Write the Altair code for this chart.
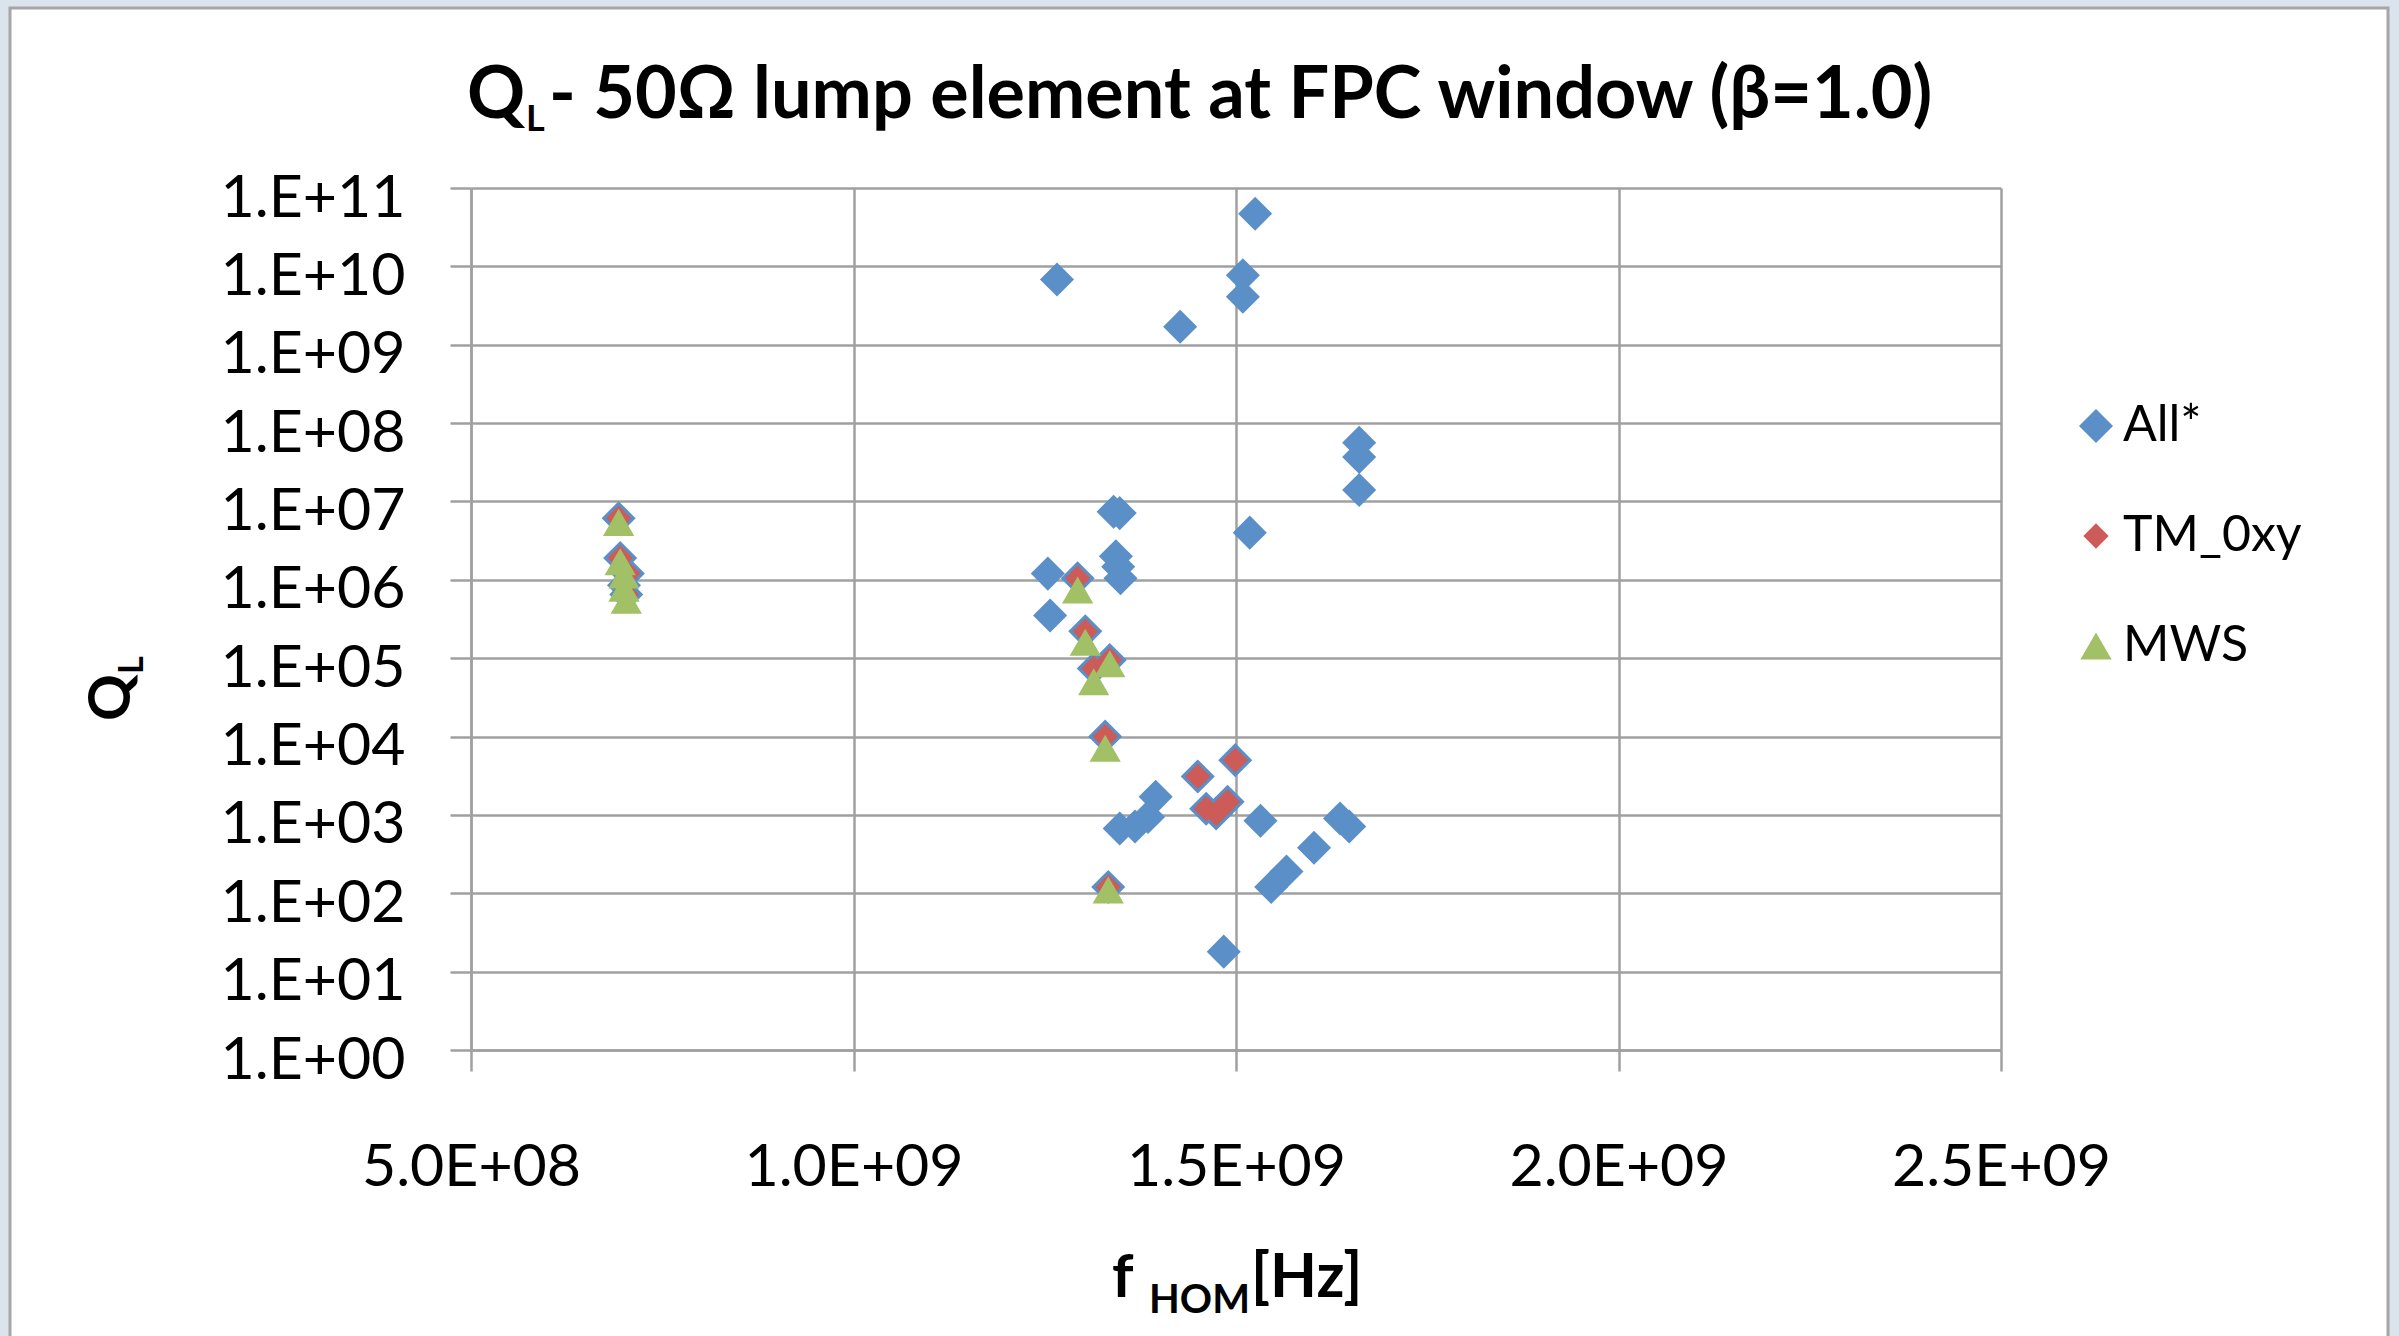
import altair as alt
import pandas as pd

# ---------------- data ----------------
series_names = ["All*", "TM_0xy", "MWS"]
series_colors = ["#5a8fc8", "#cd5b57", "#a2c065"]
series_shapes = ["diamond", "diamond", "triangle-up"]
series_sizes = [1160, 640, 980]

all_f = [6.93e8, 6.95e8, 7.05e8, 7.00e8, 7.03e8,
         1.254e9, 1.257e9, 1.266e9, 1.293e9, 1.303e9, 1.314e9, 1.329e9, 1.333e9,
         1.335e9, 1.340e9, 1.348e9, 1.343e9, 1.346e9, 1.349e9, 1.348e9, 1.368e9,
         1.385e9, 1.395e9, 1.427e9, 1.450e9, 1.461e9, 1.474e9, 1.484e9, 1.489e9,
         1.499e9, 1.509e9, 1.509e9, 1.518e9, 1.525e9, 1.532e9, 1.546e9, 1.566e9,
         1.602e9, 1.636e9, 1.648e9, 1.661e9, 1.661e9, 1.661e9]
all_q = [6.1e6, 1.9e6, 1.2e6, 8.5e5, 6.5e5,
         1.2e6, 3.5e5, 6.8e9, 1.05e6, 2.2e5, 7.4e4, 1.0e4, 1.2e2,
         9.5e4, 7.4e6, 7.1e6, 2.0e6, 1.47e6, 1.05e6, 6.7e2, 7.1e2,
         9.4e2, 1.7e3, 1.7e9, 3.1e3, 1.2e3, 1.04e3, 18, 1.47e3,
         5.0e3, 7.7e9, 4.1e9, 4.0e6, 4.7e10, 8.4e2, 1.2e2, 1.9e2,
         3.8e2, 9.0e2, 7.1e2, 5.6e7, 3.7e7, 1.4e7]

tm_f = [6.93e8, 6.95e8, 7.05e8, 7.00e8, 7.03e8,
        1.293e9, 1.303e9, 1.314e9, 1.335e9, 1.329e9, 1.333e9,
        1.450e9, 1.461e9, 1.474e9, 1.489e9, 1.499e9]
tm_q = [6.1e6, 1.9e6, 1.2e6, 8.5e5, 6.5e5,
        1.05e6, 2.2e5, 7.4e4, 9.5e4, 1.0e4, 1.2e2,
        3.1e3, 1.2e3, 1.04e3, 1.47e3, 5.0e3]

mws_f = [6.93e8, 6.95e8, 7.00e8, 7.00e8, 7.03e8,
         1.293e9, 1.303e9, 1.335e9, 1.314e9, 1.329e9, 1.333e9]
mws_q = [5.4e6, 1.7e6, 1.15e6, 7.8e5, 5.5e5,
         7.4e5, 1.6e5, 8.5e4, 5.0e4, 7.1e3, 1.1e2]

x_ticks = [5e8, 1e9, 1.5e9, 2e9, 2.5e9]
x_tick_labels = ["5.0E+08", "1.0E+09", "1.5E+09", "2.0E+09", "2.5E+09"]
y_ticks = [10.0 ** k for k in range(12)]
y_tick_labels = ["1.E+00", "1.E+01", "1.E+02", "1.E+03", "1.E+04", "1.E+05",
                 "1.E+06", "1.E+07", "1.E+08", "1.E+09", "1.E+10", "1.E+11"]

title_main = "Q"
title_sub = "L"
title_rest = " - 50Ω lump element at FPC window (β=1.0)"
xtitle_main = "f"
xtitle_sub = "HOM"
xtitle_rest = "[Hz]"
ytitle_main = "Q"
ytitle_sub = "L"

# ---------------- build ----------------
rows = []
for name, fs, qs in [("All*", all_f, all_q), ("TM_0xy", tm_f, tm_q), ("MWS", mws_f, mws_q)]:
    for f, q in zip(fs, qs):
        rows.append({"f": f, "q": q, "series": name})
df = pd.DataFrame(rows)


def label_expr(values, labels):
    expr = "''"
    for v, l in reversed(list(zip(values, labels))):
        expr = f"(datum.value == {float(v)!r} ? '{l}' : {expr})"
    return expr


GRID = "#a0a0a0"
W, H = 1530, 862

points = alt.Chart(df).mark_point(filled=True, opacity=1, strokeWidth=0).encode(
    x=alt.X("f:Q",
            scale=alt.Scale(domain=[5e8, 2.5e9], nice=False, zero=False),
            axis=alt.Axis(values=x_ticks, labelExpr=label_expr(x_ticks, x_tick_labels),
                          title=None, labelPadding=67, tickSize=21, grid=True,
                          labelLimit=1000, labelFlush=False, labelOverlap=False)),
    y=alt.Y("q:Q",
            scale=alt.Scale(type="log", domain=[1, 1e11], nice=False),
            axis=alt.Axis(values=y_ticks, labelExpr=label_expr(y_ticks, y_tick_labels),
                          title=None, labelPadding=45, tickSize=21, labelOffset=10, grid=True,
                          labelLimit=1000, labelFlush=False, labelOverlap=False)),
    color=alt.Color("series:N", scale=alt.Scale(domain=series_names, range=series_colors),
                    legend=alt.Legend(title=None, orient="none", legendX=1600, legendY=213,
                                      labelFont="Lato", labelFontSize=50, labelColor="black",
                                      rowPadding=60, labelOffset=2, symbolStrokeWidth=0,
                                      padding=0, symbolOpacity=1, labelLimit=1000)),
    shape=alt.Shape("series:N", scale=alt.Scale(domain=series_names, range=series_shapes)),
    size=alt.Size("series:N", scale=alt.Scale(type="ordinal", domain=series_names, range=series_sizes)),
)


def text_layer(txt, x, y, size, angle=0):
    return alt.Chart(pd.DataFrame({"t": [txt]})).mark_text(
        align="left", baseline="alphabetic", font="Lato", fontSize=size,
        fontWeight="bold", angle=angle, color="black"
    ).encode(text="t:N", x=alt.value(x), y=alt.value(y))


def rect_layer(x, x2, y, y2, **kw):
    return alt.Chart(pd.DataFrame({"a": [0]})).mark_rect(**kw).encode(
        x=alt.value(x), x2=alt.value(x2), y=alt.value(y), y2=alt.value(y2))


BG = "#dbe3ec"
frame = [
    rect_layer(-471, -462, -188, 1148, fill=BG),
    rect_layer(-471, 1928, -188, -181, fill=BG),
    rect_layer(1917, 1928, -188, 1148, fill=BG),
    rect_layer(-461, 1917, -180, 1160, fill="white", fillOpacity=0, stroke="#a6a6a6", strokeWidth=3),
]

texts = [
    text_layer(title_main, -4, -70, 72),
    text_layer(title_sub, 55, -57, 36),
    text_layer(title_rest, 78, -70, 72),
    text_layer(xtitle_main, 641, 1109, 60),
    text_layer(xtitle_sub, 678, 1125, 40),
    text_layer(xtitle_rest, 780, 1109, 61),
    text_layer(ytitle_main, -341, 533, 58, angle=270),
    text_layer(ytitle_sub, -328, 486, 34, angle=270),
]

chart = alt.layer(*frame, points, *texts).properties(
    width=W, height=H,
    autosize=alt.AutoSizeParams(type="none"),
    padding={"left": 471, "top": 188, "right": 398, "bottom": 286},
    background="white",
).configure(font="Lato").configure_axis(
    domainColor=GRID, domainWidth=2.5, tickColor=GRID, tickWidth=2.5,
    gridColor=GRID, gridWidth=2.5, labelFont="Lato", labelFontSize=59,
    labelColor="black",
).configure_view(stroke=None)

chart.save("out.html", embed_options={"renderer": "svg", "actions": False})
